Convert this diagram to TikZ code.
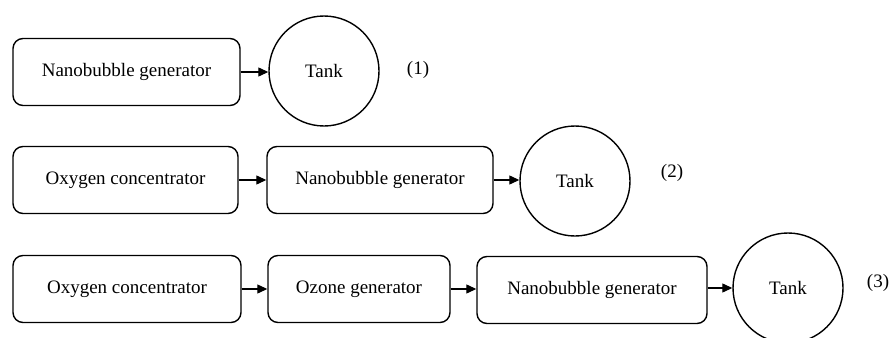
\documentclass[tikz,border=0pt]{standalone}
\usepackage{fontspec}
\setmainfont{Liberation Serif}
\usetikzlibrary{arrows.meta}
\begin{document}
\begin{tikzpicture}[x=1pt,y=-1pt,
  every node/.style={font=\fontsize{19}{23}\selectfont},
  boxnode/.style={draw, line width=1.4pt, rounded corners=10pt, inner sep=0pt, minimum height=67pt},
  tanknode/.style={draw, line width=1.4pt, circle, minimum size=110pt, inner sep=0pt},
  flow/.style={line width=1.2pt, -{Triangle[length=10pt,width=9pt]}},
  plain/.style={inner sep=0pt}
]
\useasboundingbox (0,0) rectangle (890,337);
% row 1
\node[boxnode, minimum width=227pt] (a1) at (126.5,72) {Nanobubble generator};
\node[tanknode] (t1) at (324,71) {Tank};
\node[plain] (l1) at (418,70) {(1)};
\draw[flow] (a1.east) -- (t1.west |- a1.east);
% row 2
\node[boxnode, minimum width=225pt] (a2) at (125.5,180) {Oxygen concentrator};
\node[boxnode, minimum width=226pt] (b2) at (380,180) {Nanobubble generator};
\node[tanknode] (t2) at (575,181) {Tank};
\node[plain] (l2) at (672,173) {(2)};
\draw[flow] (a2.east) -- (b2.west);
\draw[flow] (b2.east) -- (t2.west |- b2.east);
% row 3
\node[boxnode, minimum width=228pt] (a3) at (127,289) {Oxygen concentrator};
\node[boxnode, minimum width=182pt] (b3) at (359,289) {Ozone generator};
\node[boxnode, minimum width=230pt] (c3) at (592,290) {Nanobubble generator};
\node[tanknode] (t3) at (788,288) {Tank};
\node[plain] (l3) at (878,283) {(3)};
\draw[flow] (a3.east) -- (b3.west);
\draw[flow] (b3.east) -- (c3.west |- b3.east);
\draw[flow] (c3.east |- t3.west) -- (t3.west);
\end{tikzpicture}
\end{document}
